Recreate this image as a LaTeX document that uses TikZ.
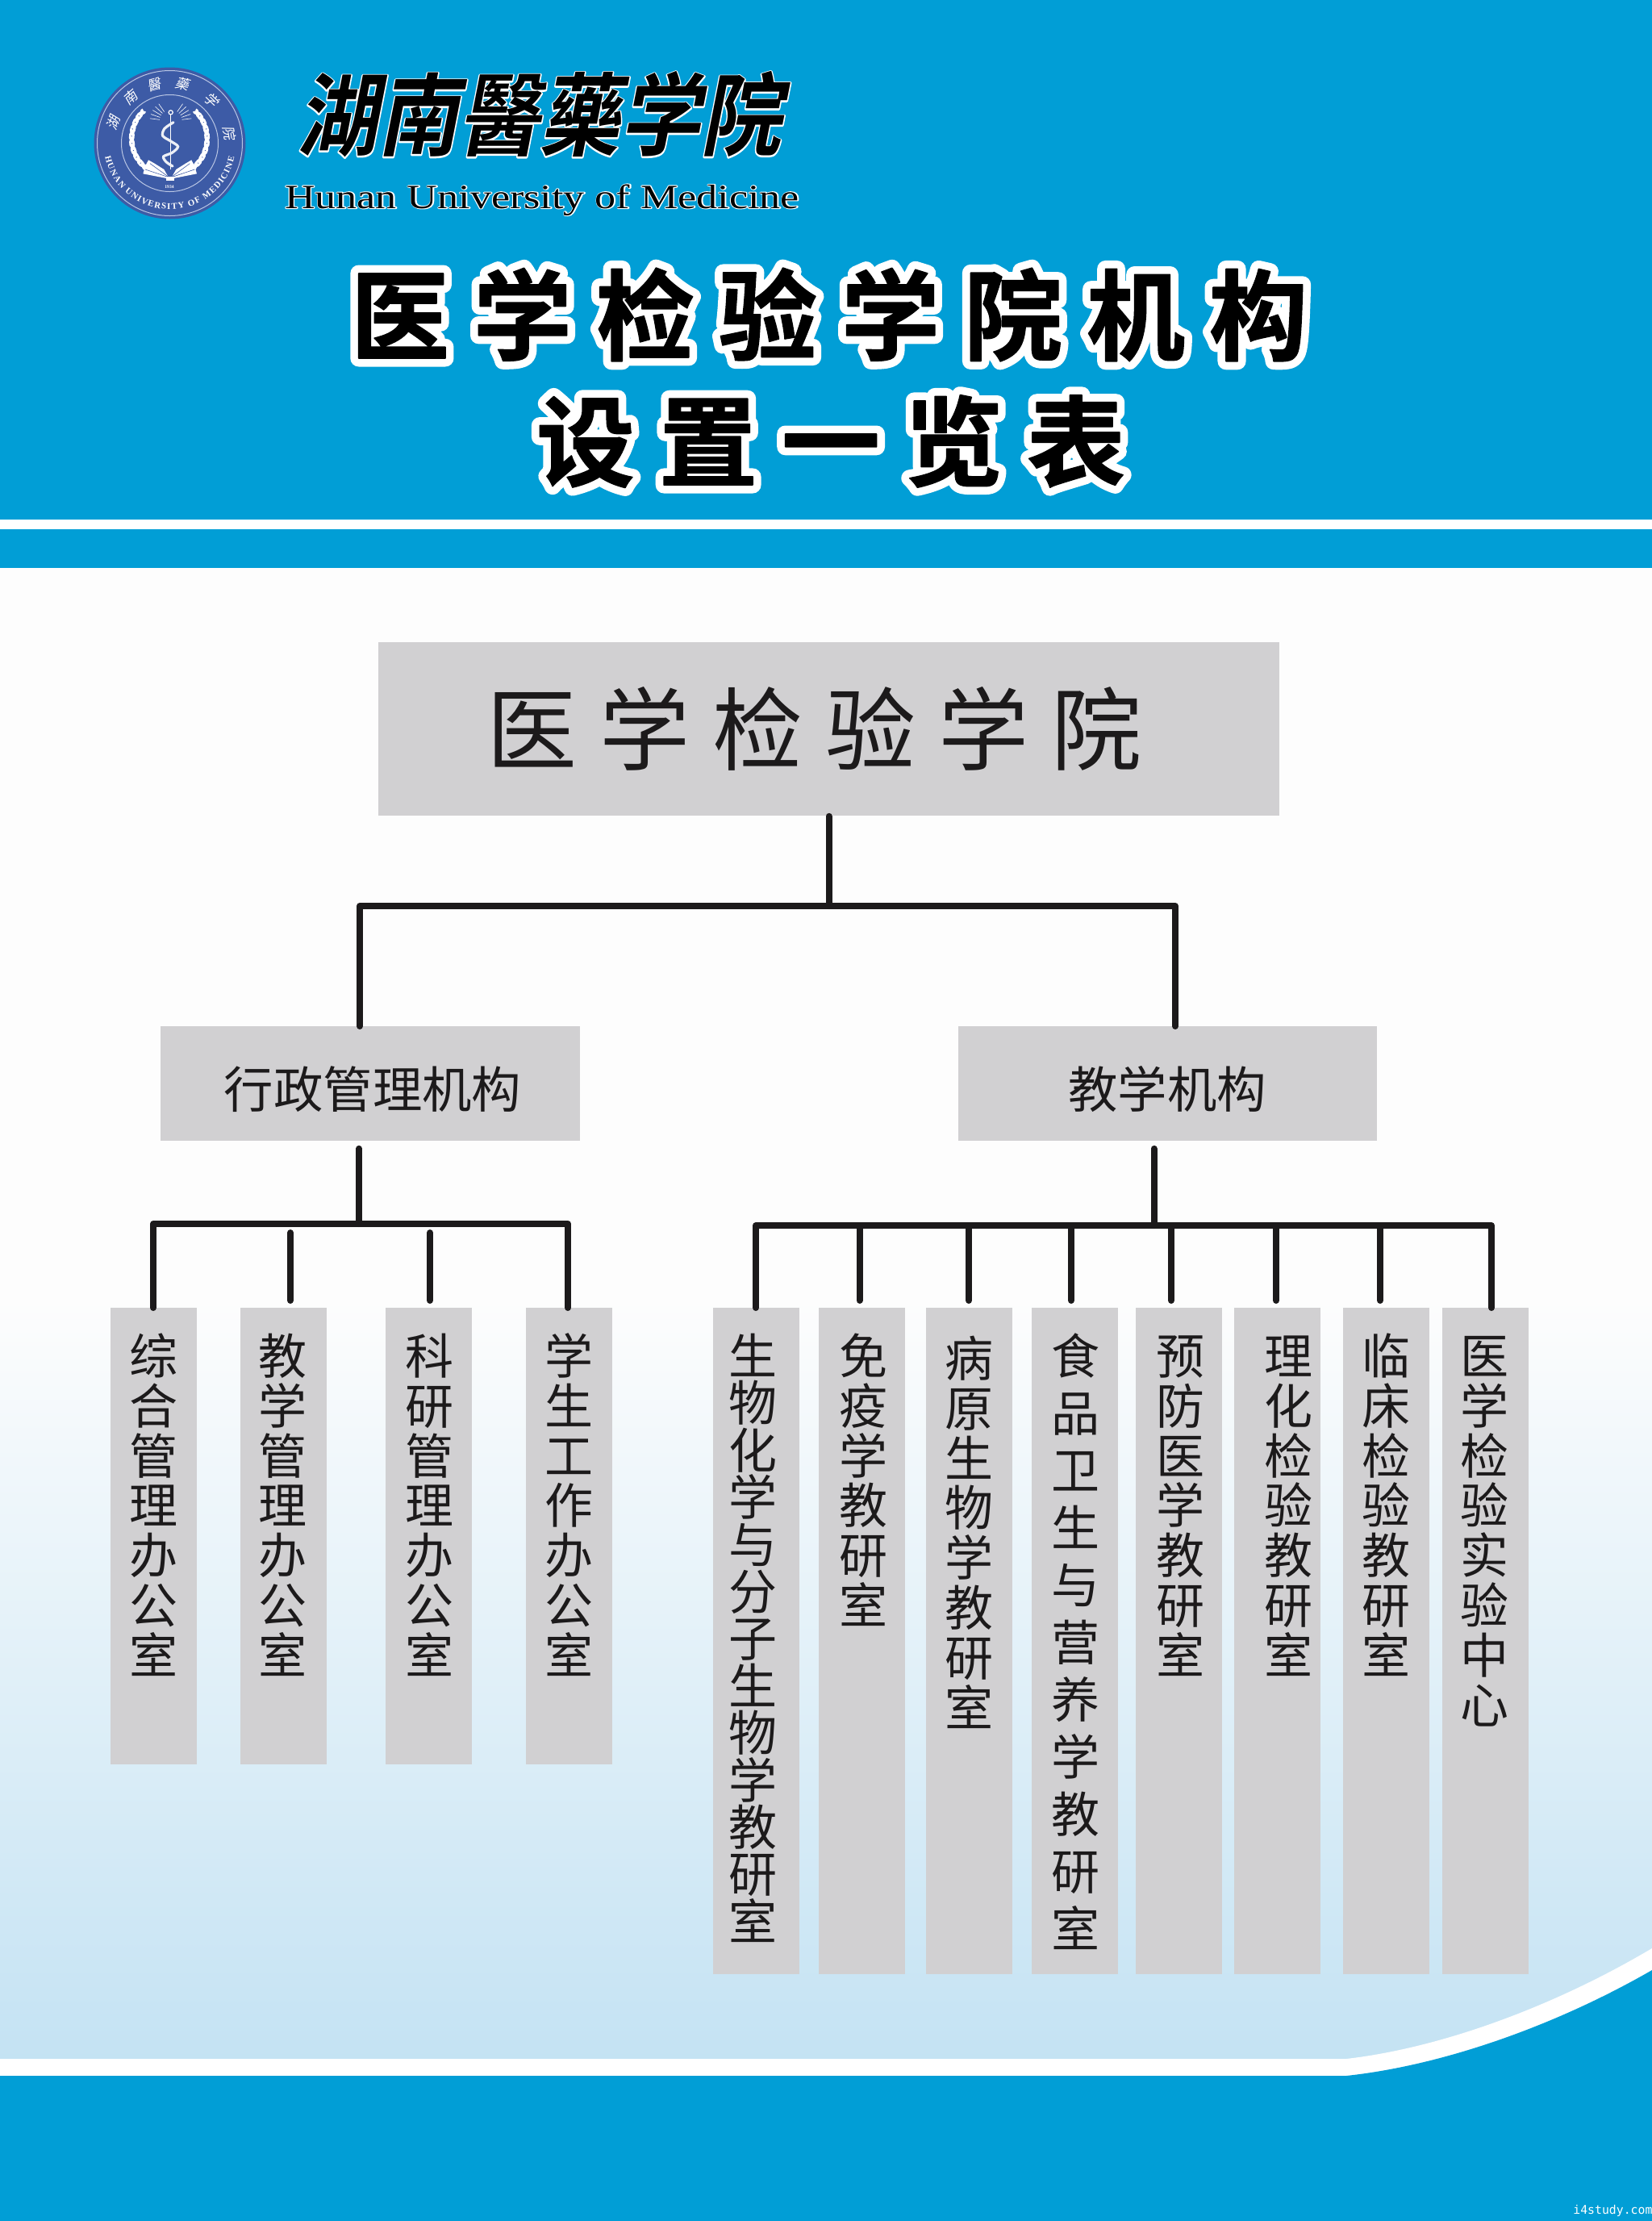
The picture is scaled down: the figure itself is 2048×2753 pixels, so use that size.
\documentclass[tikz,border=0pt]{standalone}
\usepackage{fontspec}
\usetikzlibrary{decorations.text}
\newfontfamily\cjk{Noto Sans CJK SC}
\newfontfamily\cjkspaced[LetterSpace=25]{Noto Sans CJK SC}
\newfontfamily\titlefg[LetterSpace=24.6,FakeBold=1.2]{Noto Sans CJK SC Bold}
\newfontfamily\titlehalo[LetterSpace=24.6,FakeBold=17]{Noto Sans CJK SC Bold}
\newfontfamily\brushfg[FakeSlant=0.22]{Noto Sans CJK SC Bold}
\newfontfamily\brushhalo[FakeSlant=0.22,FakeBold=3]{Noto Sans CJK SC Bold}
\newfontfamily\ringcjk[FakeSlant=0.2]{Noto Sans CJK SC}
\newfontfamily\enfg{Liberation Serif}
\newfontfamily\enhalo[FakeBold=5]{Liberation Serif}
\newfontfamily\ringen{Liberation Serif Bold}
\newfontfamily\wmfont{DejaVu Sans Mono}
\definecolor{bandblue}{HTML}{019ED6}
\definecolor{boxgray}{HTML}{D1D0D2}
\definecolor{paper}{HTML}{FDFDFD}
\definecolor{lightend}{HTML}{C3E2F3}
\definecolor{ink}{HTML}{1C1A1B}
\definecolor{logoblue}{HTML}{3D5BA6}
\definecolor{logoring}{HTML}{B9C6E4}
\newcommand{\halotext}[3]{\special{pdf:code 1 j}\rlap{\color{white}#2#3}{\color{black}#1#3}}
\newcommand{\firstline}{\rule{0pt}{26pt}}
\normallineskiplimit=-20pt
\lineskiplimit=-20pt
\tikzset{
  x=0.5pt,y=-0.5pt,
  box/.style={fill=boxgray,draw=none,inner sep=0pt},
  leafshort/.style={box,anchor=north west,minimum width=53.5pt,minimum height=283pt},
  leaflong/.style={box,anchor=north west,minimum width=53.5pt,minimum height=413pt},
  conn/.style={draw=ink,line width=4pt,line cap=round,line join=round},
  droplow/.style={conn,shorten >=4.5pt},
  vlab/.style={anchor=north,inner sep=0pt,align=center,text=ink,
    font=\cjk\fontsize{30pt}{30.9pt}\selectfont},
  leafl/.style={fill=white,draw=none},
}
\begin{document}
\begin{tikzpicture}
\useasboundingbox (0,0) rectangle (2048,2753);
% background
\fill[paper] (0,0) rectangle (2048,2753);
\shade[top color=paper,bottom color=lightend,draw=none] (0,1610) rectangle (2048,2570);
\fill[bandblue] (0,0) rectangle (2048,704);
\fill[white] (0,644) rectangle (2048,656);
% bottom wave
\fill[white] (0,2552) -- (1669,2552) .. controls (1790,2538) and (1930,2485) .. (2048,2415)
  -- (2048,2753) -- (0,2753) -- cycle;
\fill[bandblue] (0,2573) -- (1669,2573) .. controls (1790,2560) and (1930,2510) .. (2048,2442)
  -- (2048,2753) -- (0,2753) -- cycle;
\node[anchor=base west,inner sep=0pt,text=white,font=\wmfont\fontsize{7.4pt}{9pt}\selectfont] (wm) at (1950,2744) {i4study.com};

% logo
\fill[logoblue] (210.5,177.5) circle (47pt);
\draw[logoring,line width=0.5pt] (210.5,177.5) circle (45pt);
\draw[logoring,line width=0.5pt] (210.5,177.5) circle (30pt);
\foreach \c/\a in {湖/160,南/131,醫/105,藥/78,学/46,院/10}{
  \node[text=white,inner sep=0pt,font=\ringcjk\fontsize{8.5pt}{9pt}\selectfont,rotate=\a-90]
    at ({210.5+75*cos(\a)},{177.5-75*sin(\a)}) {\c};
}
\path[decorate,decoration={text along path,text align={fit to path},
    text={|\color{white}\ringen\fontsize{5.4pt}{7pt}\selectfont|HUNAN UNIVERSITY OF MEDICINE}}]
  ({210.5+82*cos(192)},{177.5-82*sin(192)}) arc[start angle=192,end angle=348,radius=41pt] ;
\begin{scope}[shift={(100,70)},x=0.16667pt,y=-0.16667pt]
  % wreath
  \foreach \a in {138,149,...,226}{
    \fill[leafl,shift={({330+140*cos(\a)},{305-140*sin(\a)})},rotate=\a-60] (0,0) ellipse [x radius=3pt,y radius=1.1pt];
    \fill[leafl,shift={({330+140*cos(\a)},{305-140*sin(\a)})},rotate=\a-120] (0,0) ellipse [x radius=3pt,y radius=1.1pt];
  }
  \foreach \a in {-46,-35,...,42}{
    \fill[leafl,shift={({330+140*cos(\a)},{305-140*sin(\a)})},rotate=\a+60] (0,0) ellipse [x radius=3pt,y radius=1.1pt];
    \fill[leafl,shift={({330+140*cos(\a)},{305-140*sin(\a)})},rotate=\a+120] (0,0) ellipse [x radius=3pt,y radius=1.1pt];
  }
  % rays
  \foreach \a in {125,137,149,161,173}{
    \draw[white,line width=0.3pt] ({335+42*cos(\a)},{240-42*sin(\a)}) -- ({335+78*cos(\a)},{240-78*sin(\a)});
    \draw[white,line width=0.3pt] ({335+42*cos(180-\a)},{240-42*sin(180-\a)}) -- ({335+78*cos(180-\a)},{240-78*sin(180-\a)});
  }
  % rod and snake
  \draw[white,line width=0.8pt] (335,215) -- (335,420);
  \draw[white,line width=0.6pt] (335,208) circle (1.3pt);
  \draw[white!90!logoblue,line width=1.6pt,line cap=round] plot[smooth] coordinates {(345,245) (312,268) (305,295) (335,315) (362,335) (340,358) (308,372) (318,392) (342,408)};
  % book
  \fill[white] (330,455) -- (232,436) -- (240,408) -- (252,385) -- (275,398) -- (310,420) -- cycle;
  \fill[white] (335,455) -- (432,436) -- (424,408) -- (412,385) -- (390,398) -- (355,420) -- cycle;
  \draw[logoblue,line width=0.3pt] (330,450) -- (240,420) (330,450) -- (258,398) (335,450) -- (424,420) (335,450) -- (406,398);
  \fill[white] (318,448) rectangle (347,462);
  \node[text=white,inner sep=0pt,font=\ringen\fontsize{2.8pt}{3pt}\selectfont] (year) at (330,484) {1934};
\end{scope}

% header
\node[inner sep=0pt,anchor=center,yscale=1.12,font=\fontsize{50pt}{52pt}\selectfont] (brand) at (668,142)
  {\halotext{\brushfg}{\brushhalo}{湖南醫藥学院}};
\node[inner sep=0pt,anchor=base,font=\fontsize{21pt}{22pt}\selectfont,xscale=1.24] (brand-en) at (672,258)
  {\halotext{\enfg}{\enhalo}{Hunan University of Medicine}};
\node[inner sep=0pt,font=\fontsize{61pt}{62pt}\selectfont] (title1) at (1028,390)
  {\halotext{\titlefg}{\titlehalo}{医学检验学院机构}};
\node[inner sep=0pt,font=\fontsize{61pt}{62pt}\selectfont] (title2) at (1030,547)
  {\halotext{\titlefg}{\titlehalo}{设置一览表}};

% boxes
\node[box,anchor=north west,minimum width=558.5pt,minimum height=107.75pt] (root) at (469,795.5) {};
\node[box,anchor=north west,minimum width=260pt,minimum height=71pt] (adm) at (199,1272) {};
\node[box,anchor=north west,minimum width=259.5pt,minimum height=71pt] (teach) at (1188,1272) {};
\node[leafshort] (a1) at (137,1621) {};
\node[leafshort] (a2) at (297.5,1621) {};
\node[leafshort] (a3) at (478,1621) {};
\node[leafshort] (a4) at (652,1621) {};
\node[leaflong] (b1) at (884,1621) {};
\node[leaflong] (b2) at (1015,1621) {};
\node[leaflong] (b3) at (1148,1621) {};
\node[leaflong] (b4) at (1279,1621) {};
\node[leaflong] (b5) at (1408,1621) {};
\node[leaflong] (b6) at (1530,1621) {};
\node[leaflong] (b7) at (1665,1621) {};
\node[leaflong] (b8) at (1788,1621) {};

% box labels
\node[inner sep=0pt,text=ink,font=\cjkspaced\fontsize{56pt}{58pt}\selectfont] (root-t) at (1009.5,903) {医学检验学院};
\node[inner sep=0pt,text=ink,font=\cjk\fontsize{30.7pt}{32pt}\selectfont] (adm-t) at (462,1350) {行政管理机构};
\node[inner sep=0pt,text=ink,font=\cjk\fontsize{30.7pt}{32pt}\selectfont] (teach-t) at (1447,1350) {教学机构};
\node[vlab] (a1-t) at (190,1651) {\firstline 综\\合\\管\\理\\办\\公\\室};
\node[vlab] (a2-t) at (350,1651) {\firstline 教\\学\\管\\理\\办\\公\\室};
\node[vlab] (a3-t) at (532,1651) {\firstline 科\\研\\管\\理\\办\\公\\室};
\node[vlab] (a4-t) at (705,1651) {\firstline 学\\生\\工\\作\\办\\公\\室};
\node[vlab,font=\cjk\fontsize{30pt}{29.2pt}\selectfont] (b1-t) at (933,1651) {\firstline 生\\物\\化\\学\\与\\分\\子\\生\\物\\学\\教\\研\\室};
\node[vlab] (b2-t) at (1070,1651) {\firstline 免\\疫\\学\\教\\研\\室};
\node[vlab] (b3-t) at (1201,1654) {\firstline 病\\原\\生\\物\\学\\教\\研\\室};
\node[vlab,font=\cjk\fontsize{30pt}{35.5pt}\selectfont] (b4-t) at (1333,1651) {\firstline 食\\品\\卫\\生\\与\\营\\养\\学\\教\\研\\室};
\node[vlab] (b5-t) at (1463,1651) {\firstline 预\\防\\医\\学\\教\\研\\室};
\node[vlab] (b6-t) at (1597,1651) {\firstline 理\\化\\检\\验\\教\\研\\室};
\node[vlab] (b7-t) at (1718,1651) {\firstline 临\\床\\检\\验\\教\\研\\室};
\node[vlab] (b8-t) at (1840,1651) {\firstline 医\\学\\检\\验\\实\\验\\中\\心};

% connectors
\coordinate (rootbar) at (1027.5,1123);
\coordinate (barL) at (446,1123);
\coordinate (barR) at (1457,1123);
\coordinate (admbar) at (445,1517);
\coordinate (admL) at (190,1517);
\coordinate (admR) at (704,1517);
\coordinate (teachbar) at (1430.5,1519);
\coordinate (teachL) at (937,1519);
\coordinate (teachR) at (1849,1519);
\coordinate (adm2) at (360,1517);
\coordinate (adm3) at (533,1517);
\coordinate (t2) at (1065.5,1519);
\coordinate (t3) at (1201,1519);
\coordinate (t4) at (1328,1519);
\coordinate (t5) at (1452,1519);
\coordinate (t6) at (1582,1519);
\coordinate (t7) at (1711,1519);
\draw[conn] (rootbar |- root.south) -- (rootbar);
\draw[conn] (adm.north -| barL) -- (barL) -- (barR) -- (teach.north -| barR);
\draw[conn,shorten <=4.5pt] (admbar |- adm.south) -- (admbar);
\draw[conn,shorten <=4.5pt] (teachbar |- teach.south) -- (teachbar);
\draw[conn] (a1.north -| admL) -- (admL) -- (admR) -- (a4.north -| admR);
\draw[droplow,shorten <=5.5pt] (adm2) -- (adm2 |- a2.north);
\draw[droplow,shorten <=5.5pt] (adm3) -- (adm3 |- a3.north);
\draw[conn] (b1.north -| teachL) -- (teachL) -- (teachR) -- (b8.north -| teachR);
\draw[droplow] (t2) -- (t2 |- b2.north);
\draw[droplow] (t3) -- (t3 |- b3.north);
\draw[droplow] (t4) -- (t4 |- b4.north);
\draw[droplow] (t5) -- (t5 |- b5.north);
\draw[droplow] (t6) -- (t6 |- b6.north);
\draw[droplow] (t7) -- (t7 |- b7.north);
\end{tikzpicture}
\end{document}
